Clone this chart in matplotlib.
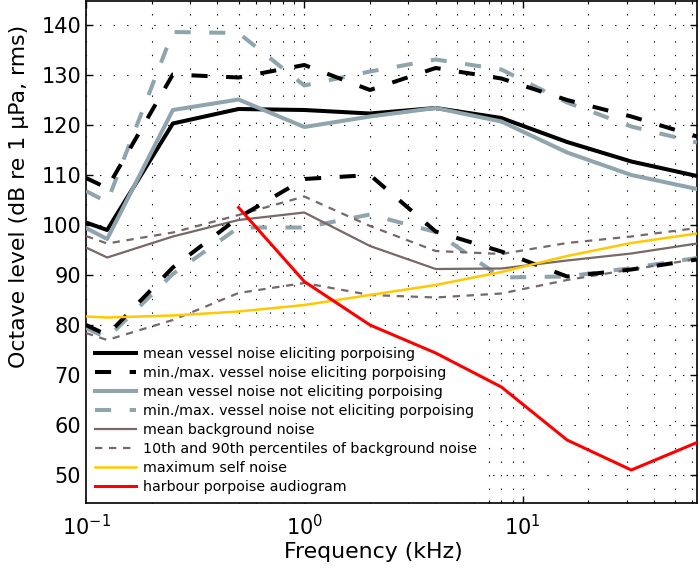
import matplotlib
matplotlib.use("Agg")
import matplotlib.pyplot as plt
from matplotlib.ticker import NullFormatter, LogLocator

# ---- data (octave band centre frequencies, kHz) ----
freqs = [0.1, 0.125, 0.25, 0.5, 1, 2, 4, 8, 16, 31.5, 63]

vessel_porp_mean = [100.5, 99.0, 120.3, 123.2, 123.0, 122.3, 123.4, 121.4, 116.6, 112.7, 109.8]
vessel_porp_max = [109.4, 107.4, 130.1, 129.5, 132.0, 127.0, 131.4, 129.3, 125.0, 121.7, 117.7]
vessel_porp_min = [80.0, 78.0, 91.5, 101.5, 109.2, 110.0, 98.7, 94.7, 89.7, 91.1, 93.1]

vessel_noporp_mean = [99.4, 97.2, 123.0, 125.1, 119.6, 121.7, 123.4, 120.7, 114.5, 110.0, 107.2]
vessel_noporp_max = [106.8, 104.6, 138.6, 138.4, 127.9, 130.7, 133.1, 131.1, 124.5, 119.7, 116.5]
vessel_noporp_min = [79.4, 77.4, 90.2, 99.5, 99.5, 102.1, 98.6, 89.5, 89.7, 91.4, 93.4]

bg_mean = [95.5, 93.5, 97.7, 101.0, 102.5, 95.8, 91.2, 91.3, 92.9, 94.3, 96.3]
bg_p90 = [97.8, 96.3, 98.5, 102.0, 105.7, 99.8, 94.8, 94.2, 96.4, 97.7, 99.4]
bg_p10 = [78.4, 77.0, 81.0, 86.4, 88.4, 86.0, 85.5, 86.3, 89.0, 91.1, 93.2]

self_noise = [81.7, 81.5, 81.9, 82.7, 84.0, 86.0, 88.0, 90.6, 93.8, 96.4, 98.3]

audiogram_freqs = [0.5, 1, 2, 4, 8, 16, 31.5, 63]
audiogram = [103.5, 88.7, 80.0, 74.4, 67.6, 57.0, 51.0, 56.5]

labels = [
    "mean vessel noise eliciting porpoising",
    "min./max. vessel noise eliciting porpoising",
    "mean vessel noise not eliciting porpoising",
    "min./max. vessel noise not eliciting porpoising",
    "mean background noise",
    "10th and 90th percentiles of background noise",
    "maximum self noise",
    "harbour porpoise audiogram",
]
yticks = [50, 60, 70, 80, 90, 100, 110, 120, 130, 140]

# ---- style ----
BLACK = "#000000"
GREY = "#8FA4AD"
BROWN = "#786868"
YELLOW = "#FFC800"
RED = "#FF0000"
thick = 2.9
big_dash = (0, (4.0, 4.6))
small_dash = (0, (3.3, 3.0))

plt.rcParams["font.family"] = ["DejaVu Sans"]

fig = plt.figure(figsize=(7.0, 5.78), dpi=100)
ax = fig.add_axes([86 / 700, 1 - 503 / 578, (697 - 86) / 700, (503 - 1) / 578])

ax.set_xscale("log")

h_pm, = ax.plot(freqs, vessel_porp_mean, color=BLACK, lw=thick, zorder=5)
h_px, = ax.plot(freqs, vessel_porp_max, color=BLACK, lw=thick, ls=big_dash, zorder=4)
ax.plot(freqs, vessel_porp_min, color=BLACK, lw=thick, ls=big_dash, zorder=4)
h_nm, = ax.plot(freqs, vessel_noporp_mean, color=GREY, lw=thick, zorder=5)
h_nx, = ax.plot(freqs, vessel_noporp_max, color=GREY, lw=thick, ls=big_dash, zorder=3)
ax.plot(freqs, vessel_noporp_min, color=GREY, lw=thick, ls=big_dash, zorder=3)
h_bm, = ax.plot(freqs, bg_mean, color=BROWN, lw=1.6, zorder=3)
h_bp, = ax.plot(freqs, bg_p90, color=BROWN, lw=1.6, ls=small_dash, zorder=3)
ax.plot(freqs, bg_p10, color=BROWN, lw=1.6, ls=small_dash, zorder=3)
h_sn, = ax.plot(freqs, self_noise, color=YELLOW, lw=1.8, zorder=6)
h_au, = ax.plot(audiogram_freqs, audiogram, color=RED, lw=2.2, zorder=7)

ax.set_xlim(0.1, 63)
ax.set_ylim(44.4, 144.8)
ax.set_yticks(yticks)
ax.xaxis.set_major_locator(LogLocator(base=10, numticks=10))
ax.xaxis.set_minor_locator(LogLocator(base=10, subs=[2, 3, 4, 5, 6, 7, 8, 9], numticks=20))
ax.xaxis.set_minor_formatter(NullFormatter())

grid_ls = (0, (1.2, 11.0))
ax.grid(True, which="major", axis="both", color="black", lw=0.8, ls=grid_ls, zorder=0.5)
ax.grid(True, which="minor", axis="x", color="black", lw=0.8, ls=grid_ls, zorder=0.5)
ax.set_axisbelow(True)

ax.tick_params(which="both", direction="in", top=True, right=True,
               labelsize=15, colors="black")
ax.tick_params(which="major", length=5, width=1)
ax.tick_params(which="minor", length=2.5, width=0.8)
ax.tick_params(axis="x", pad=8)
for s in ax.spines.values():
    s.set_linewidth(1.2)

ax.set_xlabel("Frequency (kHz)", fontsize=15.8)
ax.set_ylabel("Octave level (dB re 1 \u03bcPa, rms)", fontsize=15.8)
ax.xaxis.set_label_coords(0.47, -0.078)
ax.yaxis.set_label_coords(-0.094, 0.611)

handles = [h_pm, h_px, h_nm, h_nx, h_bm, h_bp, h_sn, h_au]
leg = ax.legend(handles, labels, loc="lower left",
                bbox_to_anchor=(0.0, 0.0), frameon=True, fontsize=10.3,
                handlelength=2.9, handletextpad=0.45, labelspacing=0.35,
                borderpad=0.6, borderaxespad=0.0, fancybox=False)
leg.get_frame().set_facecolor("white")
leg.get_frame().set_edgecolor("none")
leg.get_frame().set_alpha(1.0)
leg.set_zorder(2)

fig.savefig("out.png", dpi=100)
